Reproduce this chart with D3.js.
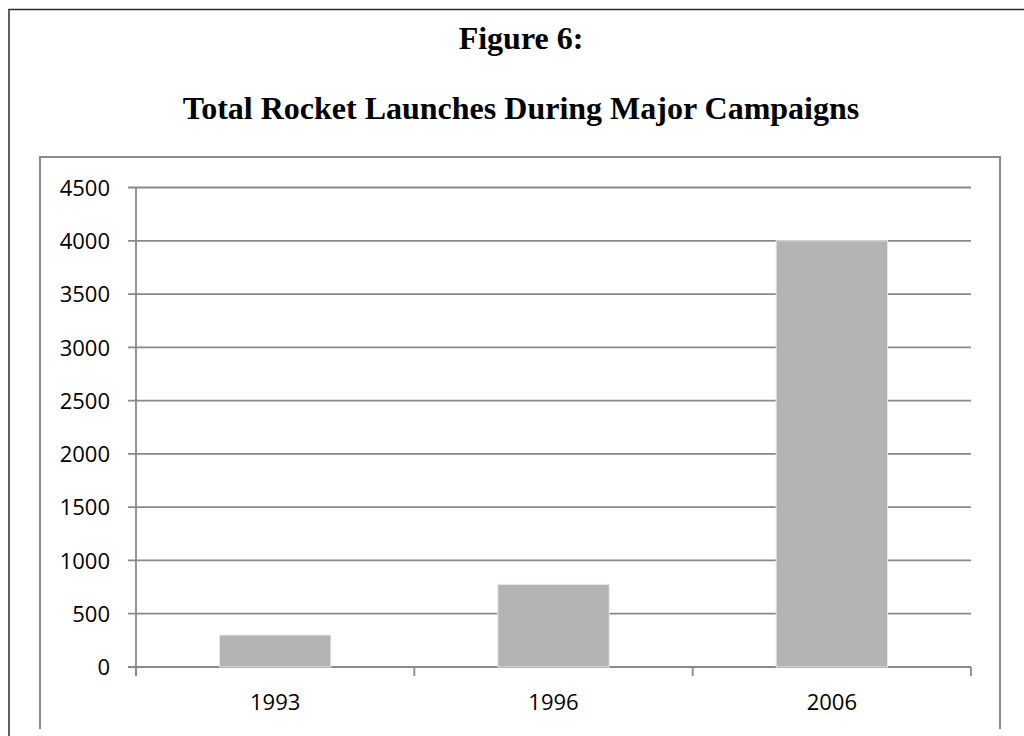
<!DOCTYPE html>
<html>
<meta charset="utf-8">
<head>
<style>
body { margin: 0; background: #fff; }
.title { font: bold 32px "Liberation Serif", serif; text-anchor: middle; fill: #000; }
.axis text { font: 22px "Open Sans", sans-serif; fill: #000; }
</style>
<script src="https://d3js.org/d3.v7.min.js"></script>
</head>
<body>
  <svg width="1024" height="736"></svg>
  <script>
  var years = ["1993", "1996", "2006"];
  var launches = [300, 775, 4000];
  var yTicks = [0, 500, 1000, 1500, 2000, 2500, 3000, 3500, 4000, 4500];

  var svg = d3.select("svg");
  var gridColor = "#898989";

  // outer frame (top + left only are visible)
  svg.append("path")
      .attr("d", "M9,736V9.5H1024")
      .attr("fill", "none")
      .attr("stroke", "#2b2b2b")
      .attr("stroke-width", 1.5);

  svg.append("text").attr("class", "title")
      .attr("x", 521).attr("y", 49)
      .text("Figure 6:");
  svg.append("text").attr("class", "title")
      .attr("x", 521).attr("y", 119)
      .text("Total Rocket Launches During Major Campaigns");

  // chart area frame
  svg.append("path")
      .attr("d", "M40,729V157H1000V729")
      .attr("fill", "none")
      .attr("stroke", gridColor)
      .attr("stroke-width", 2);

  var margin = {left: 136, right: 971, top: 187.5, bottom: 667};

  var x = d3.scaleBand()
      .domain(years)
      .range([margin.left, margin.right]);

  var y = d3.scaleLinear()
      .domain([0, 4500])
      .range([margin.bottom, margin.top]);

  // gridlines
  svg.append("g")
    .selectAll("line")
    .data(yTicks)
    .enter().append("line")
      .attr("x1", margin.left - 8)
      .attr("x2", margin.right)
      .attr("y1", function(d) { return y(d); })
      .attr("y2", function(d) { return y(d); })
      .attr("stroke", gridColor)
      .attr("stroke-width", 1.8);

  // bars, gap width 150%
  var barW = x.bandwidth() / 2.5;
  svg.append("g")
    .selectAll("rect")
    .data(years)
    .enter().append("rect")
      .attr("x", function(d) { return x(d) + (x.bandwidth() - barW) / 2; })
      .attr("y", function(d, i) { return y(launches[i]); })
      .attr("width", barW)
      .attr("height", function(d, i) { return y(0) - y(launches[i]); })
      .attr("fill", "#b3b3b3")
      .attr("stroke", "#e6e6e6")
      .attr("stroke-width", 1);

  // y axis
  var yAxis = svg.append("g")
      .attr("class", "axis")
      .attr("transform", "translate(" + margin.left + ",0)")
      .call(d3.axisLeft(y).tickValues(yTicks).tickFormat(d3.format("d"))
        .tickSize(0).tickPadding(26));
  yAxis.select(".domain").remove();
  yAxis.selectAll("text").attr("dy", "0.35em");

  svg.append("line")
      .attr("x1", margin.left).attr("x2", margin.left)
      .attr("y1", margin.top).attr("y2", margin.bottom + 9)
      .attr("stroke", gridColor)
      .attr("stroke-width", 1.8);

  // x axis
  var xAxis = svg.append("g")
      .attr("class", "axis")
      .attr("transform", "translate(0," + margin.bottom + ")")
      .call(d3.axisBottom(x).tickSize(0).tickPadding(27));
  xAxis.select(".domain").remove();

  // category boundary ticks
  var bounds = years.map(function(d) { return x(d); }).concat([margin.right]);
  svg.append("g")
    .selectAll("line")
    .data(bounds)
    .enter().append("line")
      .attr("x1", function(d) { return d; })
      .attr("x2", function(d) { return d; })
      .attr("y1", margin.bottom)
      .attr("y2", margin.bottom + 9)
      .attr("stroke", gridColor)
      .attr("stroke-width", 1.8);
  </script>
</body>
</html>
